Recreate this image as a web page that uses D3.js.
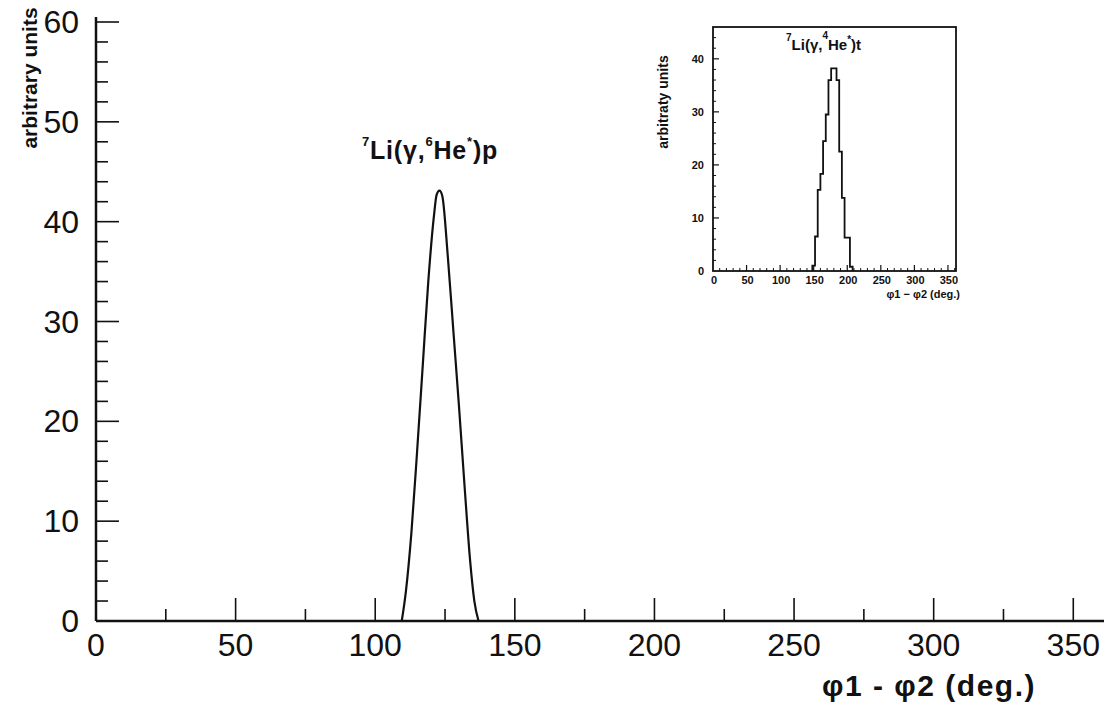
<!DOCTYPE html>
<html>
<head>
<meta charset="utf-8">
<script src="https://cdn.jsdelivr.net/npm/d3@7"></script>
<style>
  html, body { margin: 0; padding: 0; background: #fff; }
  svg { display: block; }
  text { font-family: "Liberation Sans", Arial, sans-serif; fill: #111; }
</style>
</head>
<body>
<svg id="chart" width="1109" height="713"></svg>
<script>
// Main spectrum: 7Li(γ,6He*)p, angle difference vs. yield
const mainAngles = [109.5, 111, 113, 115, 117, 119, 121, 122, 123, 124, 126, 128, 130, 132, 134, 135.5, 137];
const mainCounts = [0, 3, 9, 17, 25.5, 34, 40.5, 42.7, 43.1, 42.6, 36.5, 29, 21.5, 13.5, 6, 2, 0];

// Inset histogram: 7Li(γ,4He*)t, bin edges and bin contents
const insetEdges  = [148, 152, 156, 160, 164, 168, 172, 176, 180, 184, 188, 192, 196, 200, 204, 208];
const insetCounts = [1, 6.5, 15.3, 18.3, 24.5, 29.5, 36, 38.2, 38.2, 36, 22.5, 13.8, 6.3, 6.3, 0.8];

// Tick labels
const mainXTicks = [0, 50, 100, 150, 200, 250, 300, 350];
const mainYTicks = [0, 10, 20, 30, 40, 50, 60];
const insetXTicks = [0, 50, 100, 150, 200, 250, 300, 350];
const insetYTicks = [0, 10, 20, 30, 40];

const svg = d3.select("#chart");

// ---------- main panel ----------
const x = d3.scaleLinear().domain([0, 361]).range([96, 1104]);
const y = d3.scaleLinear().domain([0, 60]).range([621, 22]);

const main = svg.append("g");

// axis lines
main.append("line").attr("x1", x(0)).attr("x2", x(361)).attr("y1", y(0)).attr("y2", y(0))
  .attr("stroke", "#111").attr("stroke-width", 2.5);
main.append("line").attr("x1", x(0)).attr("x2", x(0)).attr("y1", y(0)).attr("y2", y(60.5))
  .attr("stroke", "#111").attr("stroke-width", 2.5);

// x ticks (major every 50, minor every 25) pointing up into the plot
const xMinor = d3.range(25, 361, 50);
main.selectAll(".xmaj").data(mainXTicks.filter(d => d > 0)).join("line")
  .attr("x1", d => x(d)).attr("x2", d => x(d)).attr("y1", y(0)).attr("y2", y(0) - 23)
  .attr("stroke", "#111").attr("stroke-width", 1.6);
main.selectAll(".xmin").data(xMinor).join("line")
  .attr("x1", d => x(d)).attr("x2", d => x(d)).attr("y1", y(0)).attr("y2", y(0) - 12)
  .attr("stroke", "#111").attr("stroke-width", 1.6);

// y ticks (major every 10, minor every 2) pointing right
const yMinor = d3.range(0, 60.01, 2).filter(d => d % 10 !== 0);
main.selectAll(".ymaj").data(mainYTicks.filter(d => d > 0)).join("line")
  .attr("x1", x(0)).attr("x2", x(0) + 23).attr("y1", d => y(d)).attr("y2", d => y(d))
  .attr("stroke", "#111").attr("stroke-width", 1.6);
main.selectAll(".ymin").data(yMinor).join("line")
  .attr("x1", x(0)).attr("x2", x(0) + 12).attr("y1", d => y(d)).attr("y2", d => y(d))
  .attr("stroke", "#111").attr("stroke-width", 1.6);

// tick labels
main.selectAll(".xl").data(mainXTicks).join("text")
  .attr("x", d => x(d)).attr("y", y(0) + 35)
  .attr("text-anchor", "middle").attr("font-size", 32).attr("fill", "#222")
  .text(d => d);
main.selectAll(".yl").data(mainYTicks).join("text")
  .attr("x", 79).attr("y", d => y(d) + 11)
  .attr("text-anchor", "end").attr("font-size", 32).attr("fill", "#222")
  .text(d => d);

// axis titles
main.append("text").attr("x", 1036).attr("y", 696).attr("text-anchor", "end")
  .attr("font-size", 30).attr("font-weight", "bold").attr("letter-spacing", 1.5)
  .text("φ1 - φ2 (deg.)");
main.append("text").attr("transform", "translate(37,78) rotate(-90)")
  .attr("text-anchor", "middle").attr("font-size", 21).attr("font-weight", "bold")
  .text("arbitrary units");

// reaction label
const t1 = main.append("text").attr("x", 362).attr("y", 159).attr("font-size", 25)
  .attr("font-weight", "bold").attr("letter-spacing", 0.8);
t1.append("tspan").attr("font-size", 13).attr("dy", -13).text("7");
t1.append("tspan").attr("dy", 13).text("Li(γ,");
t1.append("tspan").attr("font-size", 13).attr("dy", -13).text("6");
t1.append("tspan").attr("dy", 13).text("He");
t1.append("tspan").attr("font-size", 13).attr("dy", -13).text("*");
t1.append("tspan").attr("dy", 13).text(")p");

// spectrum curve
const line = d3.line().x(d => x(d)).y((d, i) => y(mainCounts[i])).curve(d3.curveMonotoneX);
main.append("path").attr("d", line(mainAngles))
  .attr("fill", "none").attr("stroke", "#111").attr("stroke-width", 2.2);

// ---------- inset panel ----------
const ix = d3.scaleLinear().domain([0, 362]).range([713, 956]);
const iy = d3.scaleLinear().domain([0, 46]).range([271, 27]);
const inset = svg.append("g");

inset.append("rect").attr("x", ix(0)).attr("y", iy(46)).attr("width", ix(362) - ix(0))
  .attr("height", iy(0) - iy(46)).attr("fill", "none").attr("stroke", "#111").attr("stroke-width", 1.8);

// inset ticks
const ixMinor = d3.range(10, 362, 10).filter(d => d % 50 !== 0);
inset.selectAll(".ixmaj").data(insetXTicks.filter(d => d > 0)).join("line")
  .attr("x1", d => ix(d)).attr("x2", d => ix(d)).attr("y1", iy(0)).attr("y2", iy(0) - 6)
  .attr("stroke", "#111").attr("stroke-width", 1.2);
inset.selectAll(".ixmin").data(ixMinor).join("line")
  .attr("x1", d => ix(d)).attr("x2", d => ix(d)).attr("y1", iy(0)).attr("y2", iy(0) - 3)
  .attr("stroke", "#111").attr("stroke-width", 1);
const iyMinor = d3.range(0, 46, 2).filter(d => d % 10 !== 0);
inset.selectAll(".iymaj").data(insetYTicks.filter(d => d > 0)).join("line")
  .attr("x1", ix(0)).attr("x2", ix(0) + 6).attr("y1", d => iy(d)).attr("y2", d => iy(d))
  .attr("stroke", "#111").attr("stroke-width", 1.2);
inset.selectAll(".iymin").data(iyMinor).join("line")
  .attr("x1", ix(0)).attr("x2", ix(0) + 3).attr("y1", d => iy(d)).attr("y2", d => iy(d))
  .attr("stroke", "#111").attr("stroke-width", 1);

inset.selectAll(".ixl").data(insetXTicks).join("text")
  .attr("x", d => ix(d) + 1).attr("y", iy(0) + 13)
  .attr("text-anchor", "middle").attr("font-size", 11).attr("font-weight", "bold").attr("fill", "#333")
  .text(d => d);
inset.selectAll(".iyl").data(insetYTicks).join("text")
  .attr("x", 704).attr("y", d => iy(d) + 4)
  .attr("text-anchor", "end").attr("font-size", 11).attr("font-weight", "bold").attr("fill", "#333")
  .text(d => d);

inset.append("text").attr("x", 960).attr("y", 298).attr("text-anchor", "end")
  .attr("font-size", 11).attr("font-weight", "bold").attr("fill", "#333").text("φ1 − φ2 (deg.)");
inset.append("text").attr("transform", "translate(668,102) rotate(-90)")
  .attr("text-anchor", "middle").attr("font-size", 14).attr("font-weight", "bold").attr("fill", "#222")
  .text("arbitraty units");

const t2 = inset.append("text").attr("x", 786).attr("y", 50).attr("font-size", 15).attr("font-weight", "bold");
t2.append("tspan").attr("font-size", 10).attr("dy", -9).text("7");
t2.append("tspan").attr("dy", 9).text("Li(γ,");
t2.append("tspan").attr("font-size", 10).attr("dy", -11).text("4");
t2.append("tspan").attr("dy", 11).text("He");
t2.append("tspan").attr("font-size", 10).attr("dy", -7).text("*");
t2.append("tspan").attr("dy", 7).text(")t");

// histogram outline as steps
const stepPts = [[insetEdges[0], 0]];
insetCounts.forEach((c, i) => {
  stepPts.push([insetEdges[i], c]);
  stepPts.push([insetEdges[i + 1], c]);
});
stepPts.push([insetEdges[insetEdges.length - 1], 0]);
const stepLine = d3.line().x(d => ix(d[0])).y(d => iy(d[1]));
inset.append("path").attr("d", stepLine(stepPts))
  .attr("fill", "none").attr("stroke", "#111").attr("stroke-width", 1.8);
</script>
</body>
</html>
